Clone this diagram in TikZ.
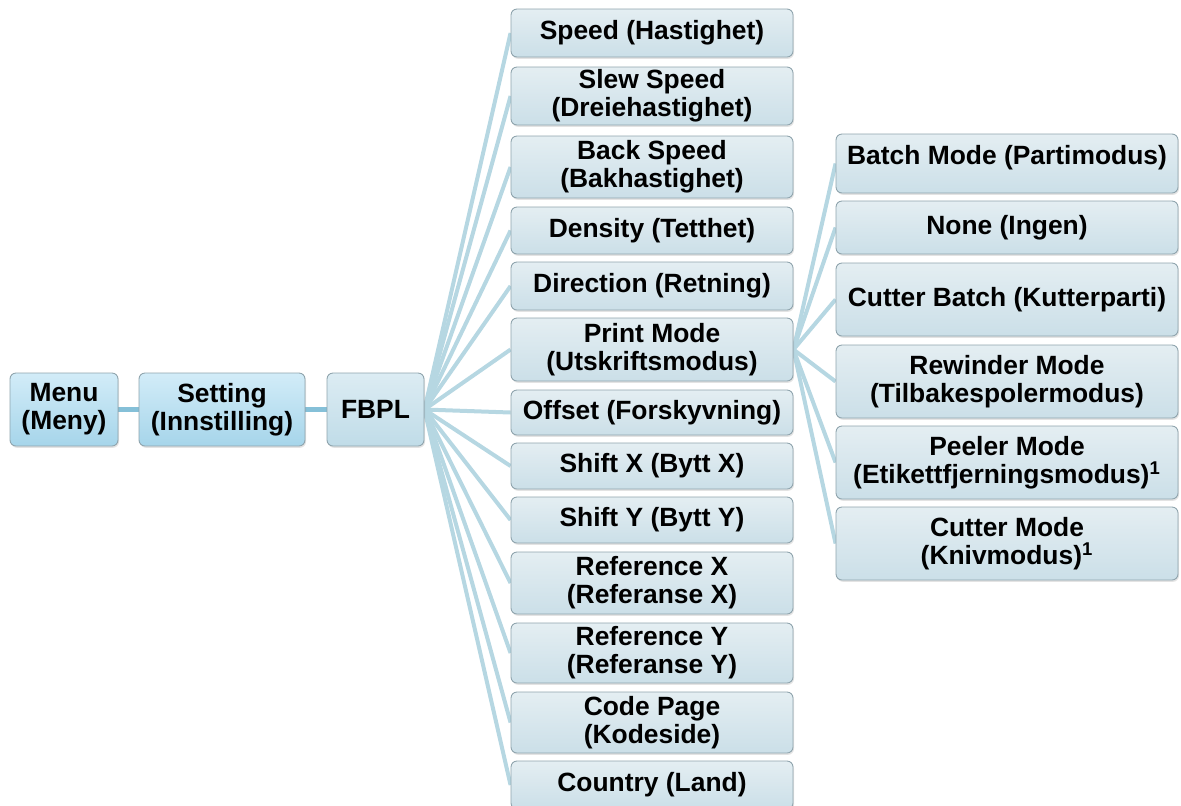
\documentclass[tikz,border=0pt]{standalone}
\usepackage{fontspec}
\setmainfont{Liberation Sans}
\usetikzlibrary{backgrounds,shadows}
\definecolor{MenuTop}{HTML}{D2ECF8}
\definecolor{MenuBot}{HTML}{A6D5EA}
\definecolor{FbplTop}{HTML}{DCECF3}
\definecolor{FbplBot}{HTML}{C0DCE8}
\definecolor{ItemTop}{HTML}{E4EEF2}
\definecolor{ItemBot}{HTML}{CBDFE8}
\definecolor{ItemEdge}{HTML}{8FA4AD}
\definecolor{LinkBlue}{HTML}{B6D7E2}
\definecolor{TrunkBlue}{HTML}{85C0D8}

\tikzset{
  box/.style={draw=ItemEdge,line width=.45pt,rounded corners=3pt,align=center,inner sep=1pt,
    font=\fontsize{13.2}{14}\selectfont\bfseries,
    drop shadow={opacity=.22,shadow xshift=.5pt,shadow yshift=-.9pt}},
  topbox/.style={box,top color=MenuTop,bottom color=MenuBot},
  fbplbox/.style={box,top color=FbplTop,bottom color=FbplBot},
  itembox/.style={box,top color=ItemTop,bottom color=ItemBot},
  link/.style={LinkBlue,line width=2pt},
  trunk/.style={TrunkBlue,line width=2.4pt},
}

\begin{document}
\begin{tikzpicture}[x=.5pt,y=-.5pt]
  \clip (0,0) rectangle (1181,805);
  % first row
  \node[topbox,minimum width=54pt,minimum height=36.5pt] (menu) at (64,409.5) {Menu\\(Meny)};
  \node[topbox,minimum width=83pt,minimum height=36.5pt] (setting) at (222,409.5) {Setting\\(Innstilling)};
  \node[fbplbox,minimum width=48.5pt,minimum height=36.5pt] (fbpl) at (375.5,409.5) {FBPL};
  % FBPL entries
  \foreach \n/\y/\h/\t in {speed/33/48/{Speed (Hastighet)},
      slew/96/58/{Slew Speed\\(Dreiehastighet)},
      back/167/62/{Back Speed\\(Bakhastighet)},
      density/230.5/47/{Density (Tetthet)},
      direction/286/48/{Direction (Retning)},
      printmode/349.5/63/{Print Mode\\(Utskriftsmodus)},
      offset/412.5/45/{Offset (Forskyvning)},
      shiftx/466/46/{Shift X (Bytt X)},
      shifty/520/46/{Shift Y (Bytt Y)},
      refx/583/62/{Reference X\\(Referanse X)},
      refy/653/60/{Reference Y\\(Referanse Y)},
      codepage/722.5/61/{Code Page\\(Kodeside)},
      country/785/48/{Country (Land)}} {
    \node[itembox,minimum width=141pt,minimum height={\h*.5pt}] (\n) at (652,\y) {\t};
  }
  % print mode entries
  \foreach \n/\y/\h/\d/\t in {batch/163.5/59/9/{Batch Mode (Partimodus)},
      none/227.5/53/3/{None (Ingen)},
      cutbatch/299.5/73/3/{Cutter Batch (Kutterparti)},
      rewinder/381.5/73/3/{Rewinder Mode\\(Tilbakespolermodus)},
      peeler/462.5/73/3/{Peeler Mode\\(Etikettfjerningsmodus)\textsuperscript{1}},
      cutter/543.5/73/3/{Cutter Mode\\(Knivmodus)\textsuperscript{1}}} {
    \node[itembox,minimum width=171pt,minimum height={\h*.5pt},text depth={\d*1pt}] (\n) at (1007,\y) {\t};
  }
  \begin{scope}[on background layer]
    \draw[trunk] (menu) -- (setting) -- (fbpl);
    \foreach \n in {speed,slew,back,density,direction,printmode,offset,shiftx,shifty,refx,refy,codepage,country}
      \draw[link] (fbpl.east) -- (\n.west);
    \foreach \n in {batch,none,cutbatch,rewinder,peeler,cutter}
      \draw[link] (printmode.east) -- (\n.west);
  \end{scope}
\end{tikzpicture}
\end{document}
